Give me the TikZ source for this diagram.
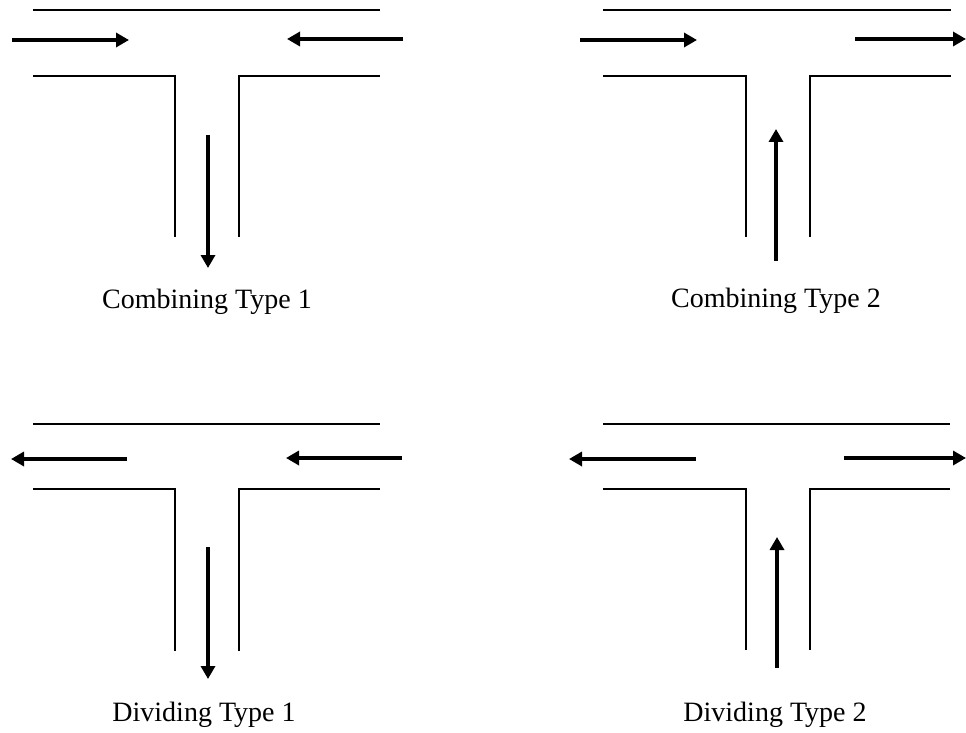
\documentclass[tikz,border=0pt]{standalone}
\usepackage{fontspec}
\setmainfont{Liberation Serif}
\usetikzlibrary{arrows.meta}
\tikzset{
  wall/.style={line width=1.7pt},
  flow/.style={line width=4.5pt,-{Triangle[length=13pt,width=14pt]}},
  caption/.style={font=\fontsize{28}{32}\selectfont, inner sep=0pt}
}
\begin{document}
\begin{tikzpicture}[x=1pt,y=-1pt]
\useasboundingbox (0,0) rectangle (966,733);
% ---------- Combining Type 1 ----------
\coordinate (a1) at (33,10); \coordinate (a2) at (380,10);
\coordinate (a3) at (33,76); \coordinate (a4) at (175,76); \coordinate (a5) at (175,237);
\coordinate (a6) at (239,237); \coordinate (a7) at (239,76); \coordinate (a8) at (380,76);
\draw[wall] (a1) -- (a2);
\draw[wall] (a3) -- (a4) -- (a5);
\draw[wall] (a6) -- (a7) -- (a8);
\coordinate (af1) at (12,40); \coordinate (af2) at (129,40);
\coordinate (af3) at (403,39); \coordinate (af4) at (287,39);
\coordinate (af5) at (208,135); \coordinate (af6) at (208,268);
\draw[flow] (af1) -- (af2);
\draw[flow] (af3) -- (af4);
\draw[flow] (af5) -- (af6);
\node[caption] (ta) at (207,302) {Combining Type 1};
% ---------- Combining Type 2 ----------
\coordinate (b1) at (603,10); \coordinate (b2) at (951,10);
\coordinate (b3) at (603,76); \coordinate (b4) at (746,76); \coordinate (b5) at (746,237);
\coordinate (b6) at (810,237); \coordinate (b7) at (810,76); \coordinate (b8) at (951,76);
\draw[wall] (b1) -- (b2);
\draw[wall] (b3) -- (b4) -- (b5);
\draw[wall] (b6) -- (b7) -- (b8);
\coordinate (bf1) at (580,40); \coordinate (bf2) at (697,40);
\coordinate (bf3) at (855,39); \coordinate (bf4) at (966,39);
\coordinate (bf5) at (776,261); \coordinate (bf6) at (776,129);
\draw[flow] (bf1) -- (bf2);
\draw[flow] (bf3) -- (bf4);
\draw[flow] (bf5) -- (bf6);
\node[caption] (tb) at (776,301) {Combining Type 2};
% ---------- Dividing Type 1 ----------
\coordinate (c1) at (33,424); \coordinate (c2) at (380,424);
\coordinate (c3) at (33,489); \coordinate (c4) at (175,489); \coordinate (c5) at (175,651);
\coordinate (c6) at (239,651); \coordinate (c7) at (239,489); \coordinate (c8) at (380,489);
\draw[wall] (c1) -- (c2);
\draw[wall] (c3) -- (c4) -- (c5);
\draw[wall] (c6) -- (c7) -- (c8);
\coordinate (cf1) at (127,459); \coordinate (cf2) at (11,459);
\coordinate (cf3) at (402,458); \coordinate (cf4) at (286,458);
\coordinate (cf5) at (208,547); \coordinate (cf6) at (208,679);
\draw[flow] (cf1) -- (cf2);
\draw[flow] (cf3) -- (cf4);
\draw[flow] (cf5) -- (cf6);
\node[caption] (tc) at (204,715) {Dividing Type 1};
% ---------- Dividing Type 2 ----------
\coordinate (d1) at (603,424); \coordinate (d2) at (950,424);
\coordinate (d3) at (603,489); \coordinate (d4) at (746,489); \coordinate (d5) at (746,650);
\coordinate (d6) at (810,650); \coordinate (d7) at (810,489); \coordinate (d8) at (950,489);
\draw[wall] (d1) -- (d2);
\draw[wall] (d3) -- (d4) -- (d5);
\draw[wall] (d6) -- (d7) -- (d8);
\coordinate (df1) at (696,459); \coordinate (df2) at (569,459);
\coordinate (df3) at (844,458); \coordinate (df4) at (966,458);
\coordinate (df5) at (777,668); \coordinate (df6) at (777,537);
\draw[flow] (df1) -- (df2);
\draw[flow] (df3) -- (df4);
\draw[flow] (df5) -- (df6);
\node[caption] (td) at (775,715) {Dividing Type 2};
\end{tikzpicture}
\end{document}
